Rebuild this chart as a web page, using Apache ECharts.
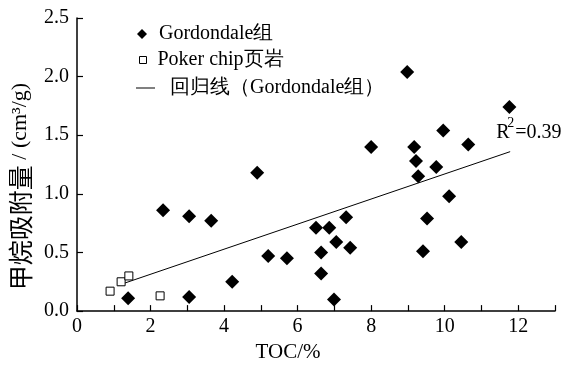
<!DOCTYPE html>
<html>
<head>
<meta charset="utf-8">
<script src="https://cdn.jsdelivr.net/npm/echarts@6/dist/echarts.min.js"></script>
<style>
html,body{margin:0;padding:0;background:#fff;}
#c{width:574px;height:368px;}
</style>
</head>
<body>
<div id="c"></div>
<script>
// Gordondale组 samples: [TOC %, methane adsorption cm3/g]
const gordondaleTOC = [1.39,2.34,3.05,3.65,3.05,4.22,4.90,5.20,5.71,6.50,6.86,6.64,6.64,6.99,7.05,7.32,7.43,8.00,8.98,9.17,9.22,9.28,9.77,9.96,9.41,9.52,10.12,10.45,10.64,11.76];
const gordondaleAds = [0.11,0.86,0.81,0.77,0.12,0.25,1.18,0.47,0.45,0.71,0.71,0.50,0.32,0.10,0.59,0.80,0.54,1.40,2.04,1.40,1.28,1.15,1.23,1.54,0.51,0.79,0.98,0.59,1.42,1.74];
// Poker chip页岩 samples
const pokerTOC = [0.90,1.20,1.41,2.26];
const pokerAds = [0.17,0.25,0.30,0.13];
// regression line endpoints (Gordondale组)
const regTOC = [1.12,11.78];
const regAds = [0.22,1.36];
const r2Text = '0.39';
const xTicks = [0,2,4,6,8,10,12];
const yTicks = ['0.0','0.5','1.0','1.5','2.0','2.5'];

const serif = 'Liberation Serif';
const zip = (a,b) => a.map((v,i)=>[v,b[i]]);
const legTxt = (pad) => ({fontFamily:serif,fontSize:20,color:'#000',padding:[0,0,0,pad]});

const chart = echarts.init(document.getElementById('c'));
chart.setOption({
  backgroundColor:'#fff',
  animation:false,
  textStyle:{fontFamily:serif},
  grid:{left:76,right:19,top:18,bottom:49,containLabel:false},
  legend:[
    {orient:'vertical',left:132,top:19,itemWidth:10,itemHeight:10,textStyle:legTxt(7),
     data:[{name:'Gordondale组',icon:'diamond',itemStyle:{color:'#000',opacity:1},textStyle:legTxt(7)}]},
    {orient:'vertical',left:134,top:45,itemWidth:7,itemHeight:7,textStyle:legTxt(6),
     data:[{name:'Poker chip页岩',icon:'rect',itemStyle:{color:'#fff',borderColor:'#000',borderWidth:1,opacity:1},textStyle:legTxt(6)}]},
    {orient:'vertical',left:131,top:73,itemWidth:19,itemHeight:1,textStyle:legTxt(10),
     data:[{name:'回归线（Gordondale组）',icon:'rect',itemStyle:{color:'#000'},textStyle:legTxt(10)}]}
  ],
  xAxis:{
    type:'value', min:0, max:13, interval:1,
    name:'TOC/%', nameLocation:'middle', nameGap:22,
    nameTextStyle:{fontFamily:serif,fontSize:21,color:'#000',padding:[0,56,0,0]},
    axisLine:{lineStyle:{color:'#000',width:1.5}},
    axisTick:{inside:true,length:6,lineStyle:{color:'#000',width:1.2}},
    axisLabel:{fontFamily:serif,fontSize:20,color:'#000',margin:6,
      formatter:v=> xTicks.indexOf(v)>=0 ? String(v) : ''},
    splitLine:{show:false}
  },
  yAxis:{
    type:'value', min:0, max:2.5, interval:0.5,
    name:'{a|甲烷吸附量}{b| / (cm³/g)}', nameLocation:'middle', nameGap:44, nameRotate:90,
    nameTextStyle:{color:'#000',padding:[0,44,0,0],
      rich:{a:{fontFamily:'Noto Sans CJK SC',fontSize:25,color:'#000'},
            b:{fontFamily:serif,fontSize:22,color:'#000'}}},
    axisLine:{show:true,lineStyle:{color:'#000',width:1.5}},
    axisTick:{show:true,inside:true,length:6,lineStyle:{color:'#000',width:1.2}},
    axisLabel:{fontFamily:serif,fontSize:20,color:'#000',margin:8,
      formatter:v=> yTicks[Math.round(v/0.5)]},
    splitLine:{show:false}
  },
  series:[
    {name:'Gordondale组',type:'scatter',symbol:'diamond',symbolSize:14,
     itemStyle:{color:'#000',opacity:1},data:zip(gordondaleTOC,gordondaleAds),z:3},
    {name:'Poker chip页岩',type:'scatter',symbol:'rect',symbolSize:8,
     itemStyle:{color:'#fff',borderColor:'#000',borderWidth:1,opacity:1},data:zip(pokerTOC,pokerAds),z:4},
    {name:'回归线（Gordondale组）',type:'line',symbol:'none',showSymbol:false,
     lineStyle:{color:'#000',width:1},itemStyle:{color:'#000'},data:zip(regTOC,regAds),z:2}
  ]
});

// R² annotation anchored to the regression line end
const end = chart.convertToPixel({gridIndex:0},[regTOC[1],regAds[1]]);
chart.setOption({
  graphic:[
    {type:'text',left:end[0]-14,top:end[1]-29,style:{text:'R',font:'20px "Liberation Serif"',fill:'#000'}},
    {type:'text',left:end[0]-3,top:end[1]-35,style:{text:'2',font:'14px "Liberation Serif"',fill:'#000'}},
    {type:'text',left:end[0]+5,top:end[1]-29,style:{text:'='+r2Text,font:'20px "Liberation Serif"',fill:'#000'}}
  ]
});
</script>
</body>
</html>
